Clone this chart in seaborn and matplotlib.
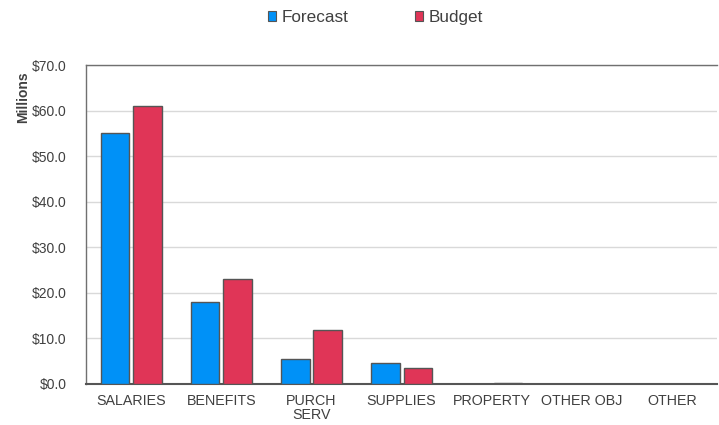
import matplotlib
matplotlib.use("Agg")
import matplotlib.pyplot as plt
import seaborn as sns
import pandas as pd
from matplotlib.ticker import FuncFormatter
from matplotlib.patches import Patch

categories = ["SALARIES", "BENEFITS", "PURCH\nSERV", "SUPPLIES", "PROPERTY", "OTHER OBJ", "OTHER"]
forecast = [55.1, 17.9, 5.4, 4.5, 0.0, 0.1, 0.0]
budget = [61.1, 23.1, 11.9, 3.6, 0.3, 0.1, 0.0]
series = ["Forecast", "Budget"]
colors = ["#0091F7", "#E03557"]

df = pd.DataFrame({
    "category": categories * 2,
    "value": forecast + budget,
    "series": [series[0]] * len(categories) + [series[1]] * len(categories),
})

sns.set_theme(style="white")
plt.rcParams["font.family"] = ["Liberation Sans", "DejaVu Sans"]

fig = plt.figure(figsize=(7.19, 4.25), dpi=100)
ax = fig.add_axes([0.1196, 0.0965, 0.878, 0.7505])

sns.barplot(data=df, x="category", y="value", hue="series", order=categories,
            hue_order=series, palette=colors, saturation=1, width=0.72, gap=0.12,
            edgecolor="#555555", linewidth=1.0, ax=ax, legend=False, zorder=3)

ax.set_ylim(0, 70)
ax.set_xlim(-0.5, len(categories) - 0.5)
ax.set_yticks(range(0, 71, 10))
ax.yaxis.set_major_formatter(FuncFormatter(lambda v, p: f"${v:.1f}"))
ax.grid(axis="y", color="#d9d9d9", linewidth=1.0, zorder=0)
ax.set_axisbelow(True)
ax.set_xlabel("")
ax.set_ylabel("Millions", fontsize=10, fontweight="bold", color="#404040")
ax.yaxis.set_label_coords(-0.088, 0.90)
ax.tick_params(axis="y", labelsize=10, colors="#404040", length=0, pad=14)
ax.tick_params(axis="x", labelsize=10.3, colors="#404040", length=0, pad=7)
for lbl in ax.get_xticklabels():
    lbl.set_linespacing(1.05)

for side in ["left", "top", "right"]:
    ax.spines[side].set_color("#707070")
    ax.spines[side].set_linewidth(1.0)
ax.spines["right"].set_visible(False)
ax.spines["bottom"].set_color("#555555")
ax.spines["bottom"].set_linewidth(1.5)

handles = [Patch(facecolor=c, edgecolor="#555555", linewidth=0.8, label=s) for s, c in zip(series, colors)]
fig.legend(handles=handles, loc="center", bbox_to_anchor=(0.522, 0.958), ncol=2, frameon=False,
           fontsize=12.3, handlelength=0.5, handleheight=0.5, handletextpad=0.3, columnspacing=3.9,
           labelcolor="#404040")

fig.savefig("out.png", dpi=100)
